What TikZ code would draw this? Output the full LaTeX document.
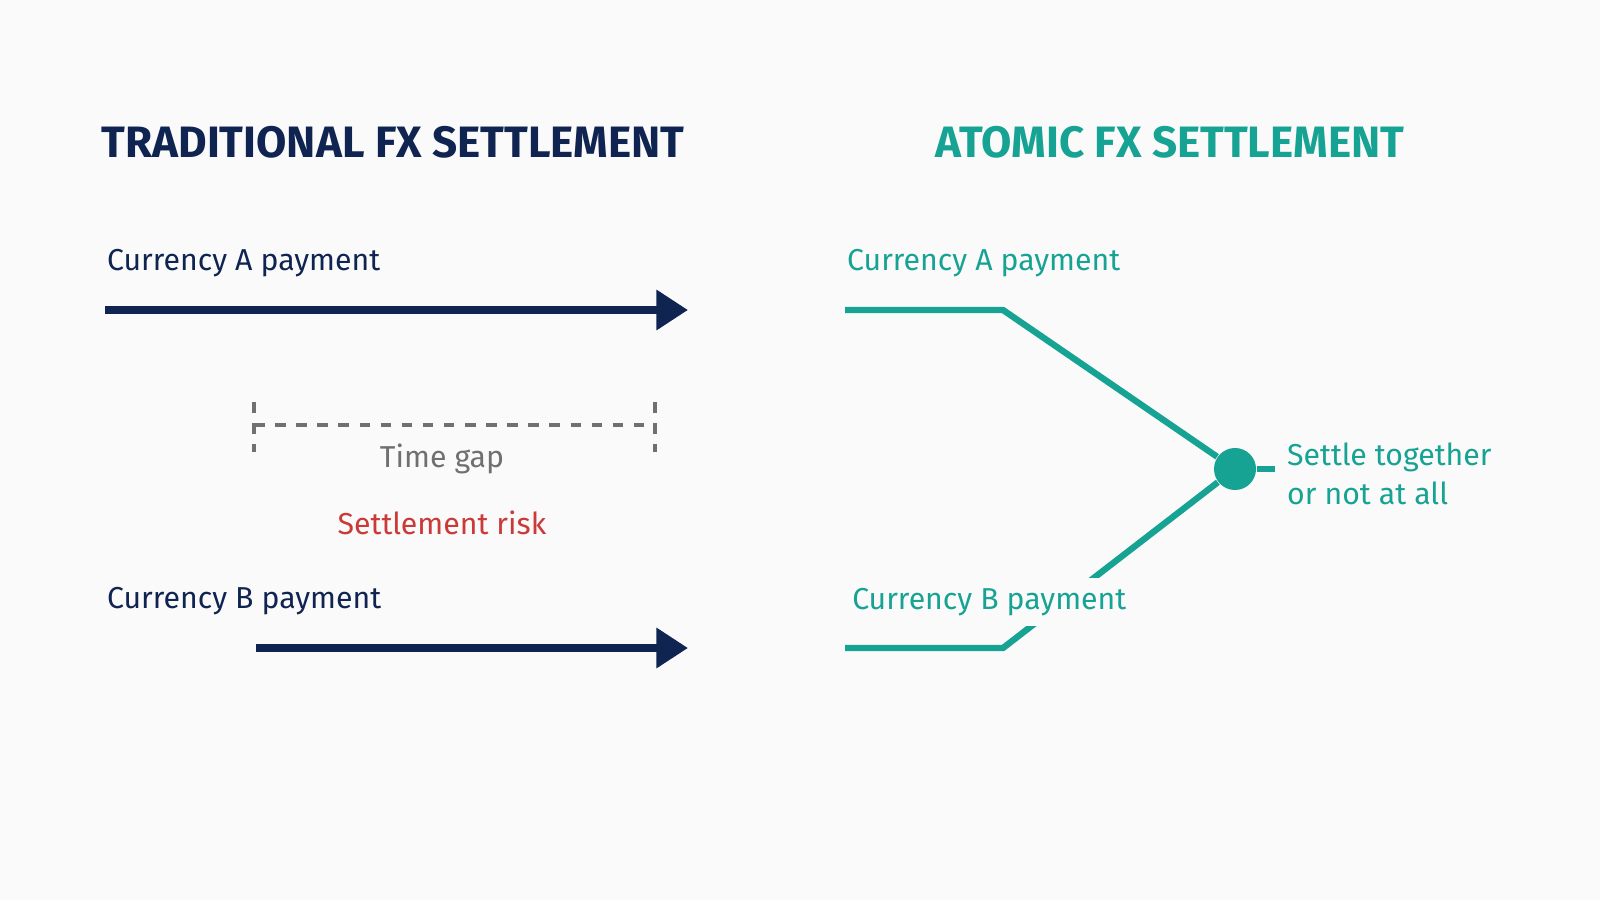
\documentclass[tikz,border=0pt]{standalone}
\usepackage{fontspec}
\setmainfont{Fira Sans}
\usetikzlibrary{positioning,arrows.meta}
\definecolor{navy}{HTML}{102452}
\definecolor{teal}{HTML}{17A393}
\definecolor{riskred}{HTML}{C93A38}
\definecolor{gapgray}{HTML}{707070}
\definecolor{paper}{HTML}{FAFAFA}
\tikzset{
title/.style={font=\fontsize{12.5}{15}\selectfont\bfseries},
label/.style={font=\fontsize{8.6}{11}\selectfont\mdseries,inner sep=1pt},
payment/.style={line width=2.2pt,navy,-{Triangle[length=9pt,width=11pt]}},
atomic/.style={line width=1.8pt,teal},
gap/.style={gapgray,dashed,line width=0.9pt}
}
\begin{document}
\begin{tikzpicture}[x=0.01cm,y=-0.01cm]
\useasboundingbox[fill=paper] (0,0) rectangle (1600,900);
% titles
\node[title,navy] (left title) at (393,142) {TRADITIONAL FX SETTLEMENT};
\node[title,teal] (right title) at (1170,142) {ATOMIC FX SETTLEMENT};

% traditional side
\node[label,navy,anchor=west] (trad a) at (103,263) {Currency A payment};
\node[label,navy,anchor=west] (trad b) at (103,601) {Currency B payment};
\coordinate (a start) at (105,310);
\coordinate (a end) at (688,310);
\coordinate (b start) at (256,648);
\coordinate (b end) at (688,648);
\draw[payment] (a start) -- (a end);
\draw[payment] (b start) -- (b end);
\coordinate (gap left) at (254,425);
\coordinate (gap right) at (655,425);
\draw[gap] (gap left) -- (gap right);
\draw[gap] (254,402) -- (254,452);
\draw[gap] (655,402) -- (655,452);
\node[label,gapgray] (time gap) at (442,459) {Time gap};
\node[label,riskred] (risk) at (442,523) {Settlement risk};

% atomic side
\node[circle,fill=teal,minimum size=0.42cm,inner sep=0pt] (settle) at (1235,469) {};
\coordinate (atom a start) at (845,310);
\coordinate (atom a bend) at (1003,310);
\coordinate (atom b start) at (845,648);
\coordinate (atom b bend) at (1003,648);
\coordinate (settle end) at (1275,469);
\draw[atomic] (atom a start) -- (atom a bend) -- (settle);
\draw[atomic] (atom b start) -- (atom b bend) -- (settle);
\draw[atomic] (settle) -- (settle end);
\node[label,teal,anchor=west,fill=paper,inner sep=3pt] (atom b) at (841,602) {Currency B payment};
\node[label,teal,anchor=west] (atom a) at (843,263) {Currency A payment};
\node[label,teal,anchor=west,align=left] (result) at (1283,474) {Settle together\\or not at all};
\end{tikzpicture}
\end{document}
